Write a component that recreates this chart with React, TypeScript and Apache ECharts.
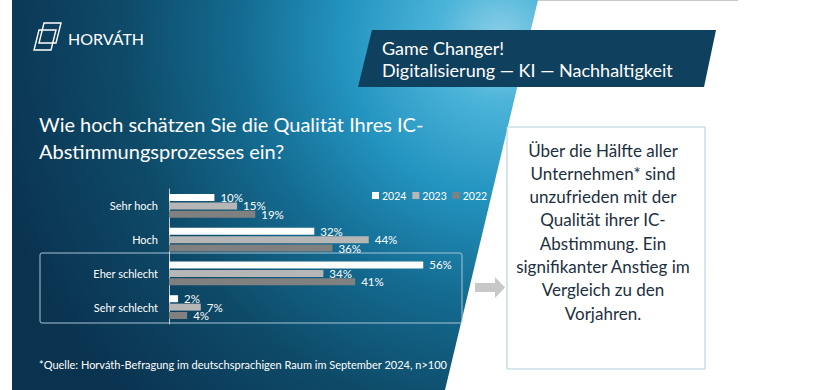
import React, { useEffect, useRef } from "react";
import * as echarts from "echarts";

const categories = ["Sehr hoch", "Hoch", "Eher schlecht", "Sehr schlecht"];
const years = ["2024", "2023", "2022"];
const values2024 = [10, 32, 56, 2];
const values2023 = [15, 44, 34, 7];
const values2022 = [19, 36, 41, 4];
const seriesColors = ["#ffffff", "#b6b6b6", "#808080"];

const titleLines = ["Wie hoch schätzen Sie die Qualität Ihres IC-", "Abstimmungsprozesses ein?"];
const bannerLines = ["Game Changer!", "Digitalisierung — KI — Nachhaltigkeit"];
const calloutLines = [
  "Über die Hälfte aller",
  "Unternehmen* sind",
  "unzufrieden mit der",
  "Qualität ihrer IC-",
  "Abstimmung. Ein",
  "signifikanter Anstieg im",
  "Vergleich zu den",
  "Vorjahren.",
];
const footnote = "*Quelle: Horváth-Befragung im deutschsprachigen Raum im September 2024, n>100";
const brand = "HORVÁTH";

const FONT = "Lato";

export default function App() {
  const ref = useRef<HTMLDivElement>(null);
  useEffect(() => {
    if (!ref.current) return;
    const chart = echarts.init(ref.current, null, { renderer: "svg" });
    const data = [values2024, values2023, values2022];
    const bg = new echarts.graphic.RadialGradient(500, 40, 520, [
      { offset: 0, color: "#8fd0e8" },
      { offset: 0.12, color: "#4cb4d9" },
      { offset: 0.3, color: "#2394c0" },
      { offset: 0.5, color: "#146b91" },
      { offset: 0.72, color: "#0e4b69" },
      { offset: 1, color: "#0a3350" },
    ], true as any);
    chart.setOption({
      animation: false,
      backgroundColor: "#ffffff",
      textStyle: { fontFamily: FONT },
      legend: {
        data: years,
        left: 372,
        top: 190,
        padding: 0,
        icon: "rect",
        itemWidth: 7,
        itemHeight: 7,
        itemGap: 6,
        textStyle: { color: "#ffffff", fontSize: 10.5, fontFamily: FONT, padding: [0, 0, 0, -2] },
      },
      grid: { left: 169, top: 189, width: 272.4, height: 135, containLabel: false },
      xAxis: { type: "value", min: 0, max: 60, show: false, splitLine: { show: false } },
      yAxis: {
        type: "category",
        data: categories,
        inverse: true,
        axisLine: { show: true, lineStyle: { color: "#c3ccd4", width: 1 } },
        axisTick: { show: false },
        axisLabel: { color: "#ffffff", fontSize: 11, fontFamily: FONT, margin: 11 },
      },
      series: years.map((y, i) => ({
        name: y,
        type: "bar",
        data: data[i],
        barWidth: 7,
        barGap: "20%",
        itemStyle: { color: seriesColors[i] },
        label: {
          show: true,
          position: "right",
          distance: 6,
          formatter: "{c}%",
          color: "#ffffff",
          fontSize: 11.5,
          fontFamily: FONT,
        },
        z: 3,
      })),
      graphic: [
        { type: "polygon", z: -10, shape: { points: [[12, 0], [538, 0], [445, 390], [12, 390]] }, style: { fill: bg } },
        { type: "line", z: -5, shape: { x1: 538, y1: 0.5, x2: 738, y2: 0.5 }, style: { stroke: "#c9c9c9", lineWidth: 1 } },
        // logo
        { type: "polygon", shape: { points: [[44, 23], [61, 23], [56, 43], [39, 43]] }, style: { fill: "none", stroke: "#ffffff", lineWidth: 1.4 } },
        { type: "polygon", shape: { points: [[39, 30], [56, 30], [51, 50], [34, 50]] }, style: { fill: "none", stroke: "#ffffff", lineWidth: 1.4 } },
        { type: "text", x: 68, y: 38, style: { text: brand, fill: "#ffffff", fontSize: 16, fontFamily: FONT, textVerticalAlign: "middle" } },
        // banner
        { type: "polygon", shape: { points: [[372, 30], [716, 30], [704, 87], [358, 87]] }, style: { fill: "#0f405e" } },
        { type: "text", x: 382, y: 48, style: { text: bannerLines[0], fill: "#ffffff", fontSize: 18, fontFamily: FONT, textVerticalAlign: "middle" } },
        { type: "text", x: 382, y: 70, style: { text: bannerLines[1], fill: "#ffffff", fontSize: 18, fontFamily: FONT, textVerticalAlign: "middle" } },
        // title
        { type: "text", x: 39, y: 124, style: { text: titleLines[0], fill: "#ffffff", fontSize: 20, fontFamily: FONT, textVerticalAlign: "middle" } },
        { type: "text", x: 39, y: 151, style: { text: titleLines[1], fill: "#ffffff", fontSize: 20, fontFamily: FONT, textVerticalAlign: "middle" } },
        // highlight box
        { type: "rect", shape: { x: 40, y: 253, width: 422, height: 70, r: 2 }, style: { fill: "none", stroke: "#a9c3d4", lineWidth: 1 } },
        // arrow
        { type: "polygon", shape: { points: [[475, 283], [495, 283], [495, 277], [505, 287.5], [495, 298], [495, 292], [475, 292]] }, style: { fill: "#c8c8c8" } },
        // callout
        { type: "rect", shape: { x: 507, y: 127, width: 198, height: 242 }, style: { fill: "#ffffff", stroke: "#b3ccd9", lineWidth: 1 } },
        ...calloutLines.map((t, i) => ({
          type: "text",
          x: 603,
          y: 150 + i * 23.3,
          style: { text: t, fill: "#1d2f3e", fontSize: 17, fontFamily: FONT, textAlign: "center", textVerticalAlign: "middle" },
        })),
        // footnote
        { type: "text", x: 39, y: 364, style: { text: footnote, fill: "#ffffff", fontSize: 11, fontFamily: FONT, textVerticalAlign: "middle" } },
      ],
    });
    return () => chart.dispose();
  }, []);
  return <div ref={ref} style={{ position: "fixed", left: 0, top: 0, width: 820, height: 390 }} />;
}
